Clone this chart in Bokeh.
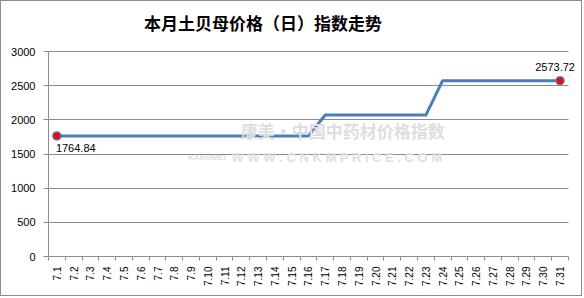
from bokeh.plotting import figure
from bokeh.models import Label, FixedTicker, Range1d
from bokeh.embed import file_html
from bokeh.resources import INLINE

title_text = "本月土贝母价格（日）指数走势"
dates = ["7.1", "7.2", "7.3", "7.4", "7.5", "7.6", "7.7", "7.8", "7.9", "7.10",
         "7.11", "7.12", "7.13", "7.14", "7.15", "7.16", "7.17", "7.18", "7.19", "7.20",
         "7.21", "7.22", "7.23", "7.24", "7.25", "7.26", "7.27", "7.28", "7.29", "7.30", "7.31"]
values = [1764.84, 1764.84, 1764.84, 1764.84, 1764.84, 1764.84, 1764.84, 1764.84,
          1764.84, 1764.84, 1764.84, 1764.84, 1764.84, 1764.84, 1764.84, 1764.84,
          2070, 2070, 2070, 2070, 2070, 2070, 2070,
          2573.72, 2573.72, 2573.72, 2573.72, 2573.72, 2573.72, 2573.72, 2573.72]
y_ticks = [0, 500, 1000, 1500, 2000, 2500, 3000]

xs = list(range(1, len(dates) + 1))
x_lo, x_hi = 0.5, len(dates) + 0.5
y_lo, y_hi = 0, 3000

# frame extends above the value axis so the title can sit inside it
p = figure(width=582, height=296, output_backend="svg", toolbar_location=None,
           x_range=Range1d(x_lo, 32.22), y_range=Range1d(y_lo, 3600),
           min_border_left=47, min_border_right=3, min_border_top=9, min_border_bottom=41)
p.styles = {"border": "1px solid #8c8c8c"}
p.outline_line_color = None
p.background_fill_color = "white"
p.border_fill_color = "white"

# grids
p.xgrid.grid_line_color = None
p.ygrid.grid_line_color = "#8c8c8c"
p.ygrid.grid_line_width = 1
p.ygrid.ticker = FixedTicker(ticks=y_ticks)
p.ygrid.cross_bounds = (x_lo, x_hi)

# y axis
p.yaxis.bounds = (y_lo, y_hi)
p.yaxis.ticker = FixedTicker(ticks=y_ticks)
p.yaxis.axis_line_color = "#8c8c8c"
p.yaxis.major_tick_line_color = "#8c8c8c"
p.yaxis.major_tick_out = 5
p.yaxis.major_tick_in = 0
p.yaxis.minor_tick_line_color = None
p.yaxis.major_label_text_font = "Liberation Sans"
p.yaxis.major_label_text_font_size = "11px"
p.yaxis.major_label_text_color = "black"
p.yaxis.major_label_standoff = 8

# x axis
p.xaxis.bounds = (x_lo, x_hi)
p.xaxis.ticker = FixedTicker(ticks=xs, minor_ticks=[x + 0.5 for x in range(0, len(dates) + 1)])
p.xaxis.major_label_overrides = {x: d for x, d in zip(xs, dates)}
p.xaxis.major_label_orientation = 3.14159265 / 2
p.xaxis.axis_line_color = "#8c8c8c"
p.xaxis.major_tick_line_color = None
p.xaxis.major_tick_out = 0
p.xaxis.major_tick_in = 0
p.xaxis.minor_tick_line_color = "#8c8c8c"
p.xaxis.minor_tick_out = 4
p.xaxis.minor_tick_in = 0
p.xaxis.major_label_text_font = "Liberation Sans"
p.xaxis.major_label_text_font_size = "10px"
p.xaxis.major_label_text_color = "black"
p.xaxis.major_label_standoff = 6

# title
p.add_layout(Label(x=6.19, y=3424, text=title_text, text_font="Noto Sans CJK SC",
                   text_font_style="bold", text_font_size="17px", text_color="black",
                   text_align="left", text_baseline="middle"))

# watermark
p.add_layout(Label(x=18.05, y=1844, text="康美·中国中药材价格指数", text_font="Noto Sans CJK SC",
                   text_font_style="bold", text_font_size="17px", text_color="#dedede",
                   text_align="center", text_baseline="middle"))
p.add_layout(Label(x=9.94, y=1449, text="KANGMEI", text_font="Liberation Sans",
                   text_font_style="bold", text_font_size="8px", text_color="#e0e0e0",
                   text_align="center", text_baseline="middle"))
p.add_layout(Label(x=17.7, y=1449, text="W W W . C N K M P R I C E . C O M",
                   text_font="Liberation Sans", text_font_style="bold", text_font_size="13px",
                   text_color="#e0e0e0", text_align="center", text_baseline="middle"))

# data
p.line(xs, values, line_color="#4a7ebb", line_width=3, line_join="round")
p.scatter([xs[0], xs[-1]], [values[0], values[-1]], size=8, fill_color="red",
          line_color="#4a7ebb", line_width=1.5)

p.add_layout(Label(x=xs[0], y=values[0], text=f"{values[0]:.2f}", text_font="Liberation Sans",
                   text_font_size="11px", text_color="black", text_align="left",
                   text_baseline="middle", x_offset=-1, y_offset=-12))
p.add_layout(Label(x=xs[-1], y=values[-1], text=f"{values[-1]:.2f}", text_font="Liberation Sans",
                   text_font_size="11px", text_color="black", text_align="center",
                   text_baseline="middle", x_offset=-5, y_offset=14))

open("out.html", "w").write(file_html(p, INLINE))
